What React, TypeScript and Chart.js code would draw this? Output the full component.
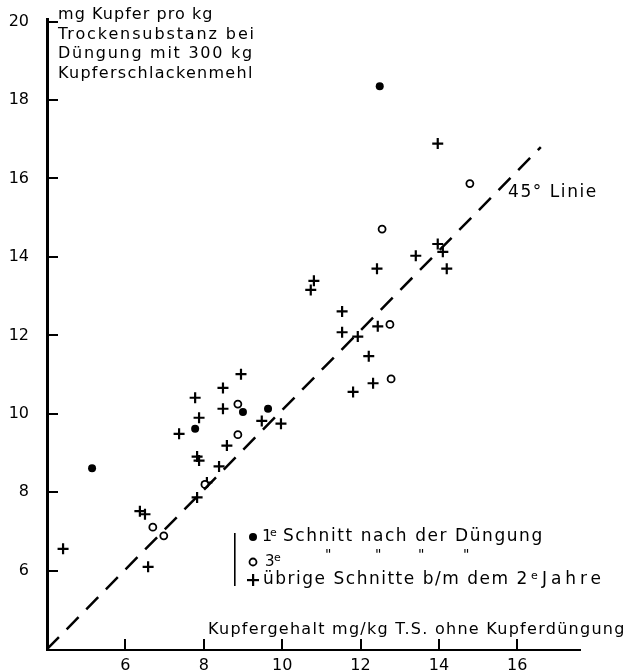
import React, { useEffect, useRef } from 'react';
import { Chart, registerables } from 'chart.js';

Chart.register(...registerables);

// ---- data ----
const xTickValues = [6, 8, 10, 12, 14, 16];
const yTickValues = [6, 8, 10, 12, 14, 16, 18, 20];

// 1e Schnitt nach der Düngung (filled dots)
const firstCutX = [12.49, 9.0, 9.64, 7.78, 5.15];
const firstCutY = [18.35, 10.05, 10.13, 9.62, 8.61];

// 3e Schnitt (open circles)
const thirdCutX = [14.79, 12.55, 12.75, 12.78, 8.87, 8.87, 8.03, 6.7, 6.98];
const thirdCutY = [15.87, 14.71, 12.28, 10.89, 10.25, 9.47, 8.2, 7.11, 6.89];

// übrige Schnitte (crosses)
const otherCutX = [13.97, 13.97, 14.1, 13.41, 12.42, 14.2, 11.53, 11.53, 11.93, 12.44, 12.21, 12.32, 11.81, 10.81, 10.73, 8.95, 8.49, 7.78, 8.49, 7.88, 7.37, 8.59, 9.48, 9.97, 7.83, 7.88, 8.39, 8.08, 7.83, 6.37, 6.5, 6.58, 4.41];
const otherCutY = [16.89, 14.33, 14.13, 14.03, 13.7, 13.7, 12.61, 12.08, 11.97, 12.23, 11.47, 10.78, 10.56, 13.39, 13.16, 11.01, 10.66, 10.41, 10.13, 9.9, 9.49, 9.19, 9.82, 9.75, 8.91, 8.81, 8.66, 8.25, 7.87, 7.52, 7.44, 6.1, 6.56];

// 45° line end points
const diagonalX = [4, 16.6];
const diagonalY = [4, 16.8];

const titleLines = ['mg Kupfer pro kg', 'Trockensubstanz bei', 'Düngung mit 300 kg', 'Kupferschlackenmehl'];
const xAxisTitle = 'Kupfergehalt mg/kg T.S. ohne Kupferdüngung';
const diagonalLabel = '45° Linie';

const zip = (xs: number[], ys: number[]) => xs.map((x, i) => ({ x, y: ys[i] }));

const FONT = '"DejaVu Sans", sans-serif';

function fitText(ctx: CanvasRenderingContext2D, s: string, x: number, y: number, size: number, width: number) {
  ctx.font = `${size}px ${FONT}`;
  (ctx as any).letterSpacing = '0px';
  const w = ctx.measureText(s).width;
  const sp = s.length > 1 ? Math.max(0, (width - w) / (s.length - 0.5)) : 0;
  (ctx as any).letterSpacing = `${sp}px`;
  ctx.textAlign = 'left';
  ctx.textBaseline = 'middle';
  ctx.fillText(s, x, y);
  (ctx as any).letterSpacing = '0px';
}

function plainText(ctx: CanvasRenderingContext2D, s: string, x: number, y: number, size: number) {
  ctx.font = `${size}px ${FONT}`;
  (ctx as any).letterSpacing = '0px';
  ctx.textAlign = 'left';
  ctx.textBaseline = 'middle';
  ctx.fillText(s, x, y);
}

const decorPlugin = {
  id: 'decor',
  afterDatasetsDraw(chart: any) {
    const ctx: CanvasRenderingContext2D = chart.ctx;
    const area = chart.chartArea;
    const xs = chart.scales['x'];
    const ys = chart.scales['y'];
    ctx.save();
    ctx.setLineDash([]);
    ctx.fillStyle = '#000';
    // inward tick marks
    for (const v of yTickValues) {
      const py = Math.round(ys.getPixelForValue(v));
      ctx.fillRect(area.left, py - 1, 11, 2);
    }
    for (const v of xTickValues) {
      const px = Math.round(xs.getPixelForValue(v));
      ctx.fillRect(px - 1, area.bottom - 11, 2, 11);
    }
    ctx.restore();
  },
  afterDraw(chart: any) {
    const ctx: CanvasRenderingContext2D = chart.ctx;
    ctx.save();
    ctx.setLineDash([]);
    ctx.strokeStyle = '#000';
    ctx.fillStyle = '#000';

    // title block
    const titleW = [155, 197, 195, 195];
    const titleY = [15, 35, 54, 74];
    titleLines.forEach((t, i) => fitText(ctx, t, 58, titleY[i], 16, titleW[i]));

    // 45° label
    fitText(ctx, diagonalLabel, 508, 193, 17, 89);

    // x-axis title
    fitText(ctx, xAxisTitle, 208, 630, 16, 417);

    // legend
    ctx.fillRect(234, 533, 1.6, 53);

    const mx = 253;
    const r1 = 537, r2 = 562, r3 = 580;
    ctx.beginPath();
    ctx.arc(mx, r1, 4, 0, Math.PI * 2);
    ctx.fill();
    ctx.lineWidth = 1.8;
    ctx.beginPath();
    ctx.arc(mx, r2, 3.5, 0, Math.PI * 2);
    ctx.stroke();
    ctx.fillRect(mx - 6, r3 - 1, 12, 2.2);
    ctx.fillRect(mx - 1, r3 - 6, 2.2, 12);

    plainText(ctx, '1', 262, r1, 16);
    plainText(ctx, 'e', 270, r1 - 4, 11);
    fitText(ctx, 'Schnitt nach der Düngung', 283, r1, 17, 260);

    plainText(ctx, '3', 265, r2, 15);
    plainText(ctx, 'e', 274, r2 - 4, 11);
    [325, 375, 418, 463].forEach((dx) => plainText(ctx, '"', dx, 555, 14));

    fitText(ctx, 'übrige Schnitte b/m dem 2', 263, r3, 17, 265);
    plainText(ctx, 'e', 531, r3 - 4, 11);
    fitText(ctx, 'Jahre', 542, r3, 17, 61);

    ctx.restore();
  },
};

export default function App() {
  const ref = useRef<HTMLCanvasElement>(null);
  useEffect(() => {
    if (!ref.current) return;
    const chart = new Chart(ref.current, {
      type: 'scatter',
      data: {
        datasets: [
          {
            label: '45° Linie',
            data: zip(diagonalX, diagonalY),
            showLine: true,
            borderColor: '#000',
            borderWidth: 2.5,
            borderDash: [17, 11],
            pointRadius: 0,
            clip: false as any,
          },
          {
            label: '1e Schnitt nach der Düngung',
            data: zip(firstCutX, firstCutY),
            pointStyle: 'circle',
            pointRadius: 4,
            backgroundColor: '#000',
            borderColor: '#000',
            borderWidth: 0,
          },
          {
            label: '3e Schnitt',
            data: zip(thirdCutX, thirdCutY),
            pointStyle: 'circle',
            pointRadius: 3.5,
            backgroundColor: '#fff',
            borderColor: '#000',
            borderWidth: 1.8,
          },
          {
            label: 'übrige Schnitte b/m dem 2e Jahre',
            data: zip(otherCutX, otherCutY),
            pointStyle: 'cross',
            pointRadius: 5.5,
            borderColor: '#000',
            borderWidth: 2.2,
          },
        ],
      },
      options: {
        responsive: false,
        animation: false,
        layout: { padding: { left: 0, right: 50, top: 15, bottom: 0 } },
        plugins: { legend: { display: false }, tooltip: { enabled: false } },
        scales: {
          x: {
            type: 'linear',
            min: 4,
            max: 17.6,
            afterFit: (s: any) => { s.height = 20; },
            afterBuildTicks: (s: any) => { s.ticks = xTickValues.map((v) => ({ value: v })); },
            grid: { display: false },
            border: { display: true, color: '#000', width: 2 },
            ticks: { color: '#000', font: { family: FONT, size: 16 }, padding: -2, maxRotation: 0 },
          },
          y: {
            type: 'linear',
            min: 3.98,
            max: 20.05,
            afterFit: (s: any) => { s.width = 47; },
            afterBuildTicks: (s: any) => { s.ticks = yTickValues.map((v) => ({ value: v })); },
            grid: { display: false },
            border: { display: true, color: '#000', width: 3 },
            ticks: { color: '#000', font: { family: FONT, size: 16 }, padding: 10 },
          },
        },
      },
      plugins: [decorPlugin],
    });
    return () => chart.destroy();
  }, []);
  return (
    <div style={{ position: 'absolute', left: 0, top: 0, width: 630, height: 670, background: '#fff' }}>
      <canvas ref={ref} width={630} height={670} style={{ display: 'block' }} />
    </div>
  );
}
